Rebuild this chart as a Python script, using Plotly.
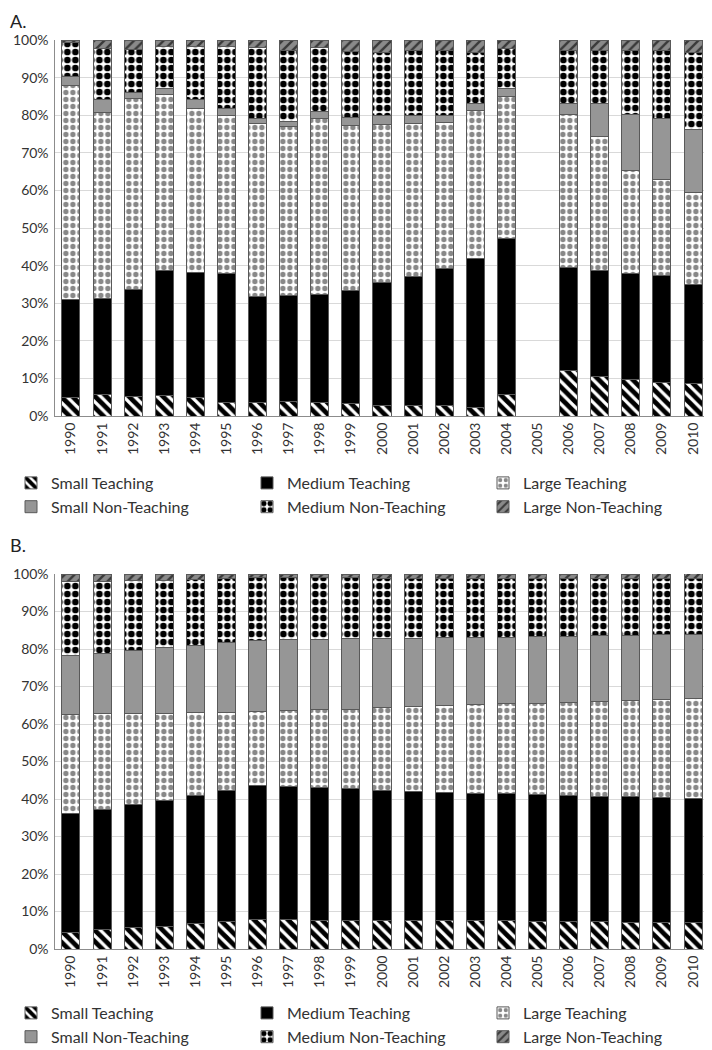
import plotly.graph_objects as go

years = [str(y) for y in range(1990, 2011)]
series_names = ["Small Teaching", "Medium Teaching", "Large Teaching",
                "Small Non-Teaching", "Medium Non-Teaching", "Large Non-Teaching"]

# Panel A (percent shares per year; 2005 missing)
a_small_teach = [5.0, 5.6, 5.1, 5.4, 5.0, 3.7, 3.6, 3.9, 3.5, 3.2, 2.9, 2.9, 2.9, 2.3, 5.7, None, 12.2, 10.6, 9.6, 9.0, 8.6]
a_med_teach = [25.9, 25.6, 28.5, 33.3, 33.1, 34.2, 28.1, 28.2, 28.9, 30.1, 32.7, 34.2, 36.3, 39.6, 41.4, None, 27.3, 28.1, 28.3, 28.3, 26.5]
a_large_teach = [57.1, 49.6, 50.8, 46.8, 43.8, 42.1, 46.0, 45.0, 46.7, 44.0, 41.9, 40.7, 38.8, 39.4, 38.0, None, 40.6, 35.6, 27.4, 25.7, 24.3]
a_small_nonteach = [2.4, 3.5, 1.6, 1.7, 2.4, 1.7, 1.5, 1.3, 1.8, 2.0, 2.5, 2.0, 2.0, 1.7, 2.0, None, 2.9, 8.8, 14.9, 16.2, 16.8]
a_med_nonteach = [8.9, 13.5, 11.5, 11.2, 14.1, 16.5, 18.8, 18.9, 17.1, 17.6, 16.8, 17.4, 17.2, 13.7, 10.7, None, 14.2, 14.1, 17.0, 18.0, 20.4]
a_large_nonteach = [0.7, 2.2, 2.5, 1.6, 1.6, 1.8, 2.0, 2.7, 2.0, 3.1, 3.2, 2.8, 2.8, 3.3, 2.2, None, 2.8, 2.8, 2.8, 2.8, 3.4]

# Panel B
b_small_teach = [4.5, 5.2, 5.7, 6.1, 6.7, 7.4, 8.0, 7.8, 7.7, 7.7, 7.6, 7.5, 7.5, 7.5, 7.5, 7.4, 7.3, 7.3, 7.2, 7.2, 7.1]
b_med_teach = [31.7, 32.1, 32.8, 33.5, 34.2, 34.9, 35.6, 35.5, 35.4, 35.1, 34.8, 34.6, 34.3, 34.1, 33.9, 33.8, 33.7, 33.5, 33.4, 33.2, 33.0]
b_large_teach = [26.4, 25.4, 24.4, 23.3, 22.2, 20.8, 19.7, 20.3, 20.7, 21.2, 22.0, 22.6, 23.1, 23.6, 24.1, 24.4, 24.8, 25.2, 25.6, 26.2, 26.6]
b_small_nonteach = [15.8, 16.1, 16.7, 17.4, 17.8, 18.6, 19.1, 19.0, 18.8, 18.7, 18.4, 18.2, 18.1, 17.9, 17.7, 17.7, 17.6, 17.5, 17.4, 17.2, 17.1]
b_med_nonteach = [19.6, 19.3, 18.8, 18.1, 17.7, 17.1, 16.7, 16.5, 16.4, 16.3, 16.1, 16.0, 15.9, 15.8, 15.6, 15.5, 15.4, 15.3, 15.2, 15.1, 15.0]
b_large_nonteach = [2.0, 1.9, 1.6, 1.6, 1.4, 1.2, 0.9, 0.9, 1.0, 1.0, 1.1, 1.1, 1.1, 1.1, 1.2, 1.2, 1.2, 1.2, 1.2, 1.3, 1.3]

panel_a = [a_small_teach, a_med_teach, a_large_teach, a_small_nonteach, a_med_nonteach, a_large_nonteach]
panel_b = [b_small_teach, b_med_teach, b_large_teach, b_small_nonteach, b_med_nonteach, b_large_nonteach]

styles = [
    dict(color="white", pattern=dict(shape="\\", fgcolor="black", bgcolor="white", size=8,
                                     solidity=0.6, fgopacity=1)),
    dict(color="black"),
    dict(color="white", pattern=dict(shape=".", fgcolor="#888888", bgcolor="white", size=7,
                                     solidity=0.45, fgopacity=1)),
    dict(color="#969696"),
    dict(color="white", pattern=dict(shape=".", fgcolor="black", bgcolor="white", size=8,
                                     solidity=0.55, fgopacity=1)),
    dict(color="#808080", pattern=dict(shape="/", fgcolor="#3a3a3a", bgcolor="#8a8a8a", size=7,
                                       solidity=0.35, fgopacity=1)),
]

FONT = "Lato"
TXT = "#333333"
fig = go.Figure()

for panel, xa, ya, leg in [(panel_a, "x", "y", "legend"), (panel_b, "x2", "y2", "legend2")]:
    for name, vals, st in zip(series_names, panel, styles):
        marker = dict(st)
        marker["line"] = dict(color="#595959", width=1)
        fig.add_trace(go.Bar(x=years, y=vals, name=name, marker=marker,
                             xaxis=xa, yaxis=ya, legend=leg, hoverinfo="x+y+name"))

# page has an 8px body margin, so the figure is 704x1042 and pixel positions are page - 8
W, H = 704, 1042
OFF = 8
def px_x(p):
    return (p - OFF) / W
def px_y(p):
    return 1 - (p - OFF) / H

axis_common_x = dict(type="category", tickangle=-90, showgrid=False, ticks="",
                     showline=True, linecolor="#8c8c8c", linewidth=1,
                     tickfont=dict(family=FONT, size=14, color=TXT),
                     domain=[px_x(55.4), px_x(708.6)], fixedrange=True, automargin=False)
axis_common_y = dict(range=[0, 100], dtick=10, ticksuffix="%", showgrid=True,
                     gridcolor="#d9d9d9", gridwidth=1, showline=True,
                     linecolor="#8c8c8c", linewidth=1, ticks="", zeroline=False,
                     tickfont=dict(family=FONT, size=14, color=TXT), fixedrange=True,
                     automargin=False, ticklabelstandoff=3)

legend_common = dict(orientation="h", xanchor="left", yanchor="top",
                     entrywidth=191, entrywidthmode="pixels",
                     font=dict(family=FONT, size=16, color=TXT),
                     bgcolor="rgba(0,0,0,0)", traceorder="normal", tracegroupgap=0)

fig.update_layout(
    width=W, height=H,
    margin=dict(l=0, r=0, t=0, b=0, autoexpand=False),
    paper_bgcolor="white", plot_bgcolor="white",
    barmode="stack", bargap=0.42,
    xaxis=dict(axis_common_x, anchor="y"),
    yaxis=dict(axis_common_y, domain=[px_y(416), px_y(40)], anchor="x"),
    xaxis2=dict(axis_common_x, anchor="y2"),
    yaxis2=dict(axis_common_y, domain=[px_y(949), px_y(574)], anchor="x2"),
    legend=dict(legend_common, x=px_x(11), y=px_y(466)),
    legend2=dict(legend_common, x=px_x(11), y=px_y(996)),
    font=dict(family=FONT, color=TXT),
    annotations=[
        dict(text="A.", x=0, y=1, xref="paper", yref="paper",
             xanchor="left", yanchor="top", showarrow=False,
             font=dict(family=FONT, size=18, color="#222222")),
        dict(text="B.", x=0, y=px_y(532), xref="paper", yref="paper",
             xanchor="left", yanchor="top", showarrow=False,
             font=dict(family=FONT, size=18, color="#222222")),
    ],
)

fig.write_html("out.html")
